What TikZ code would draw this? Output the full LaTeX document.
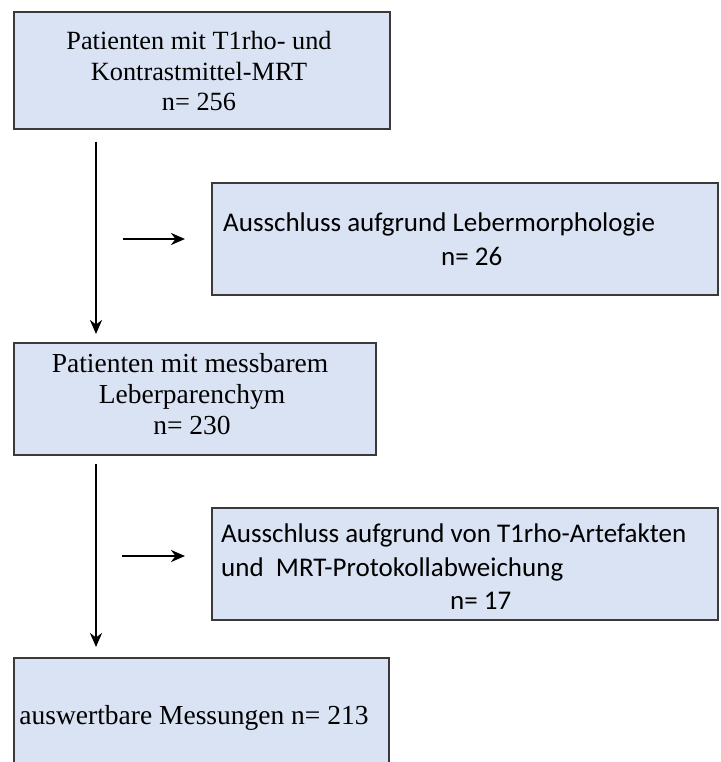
\documentclass[tikz,border=0pt]{standalone}
\usepackage{fontspec}
\setmainfont{Liberation Serif}
\newfontfamily\calib{Carlito}
\usetikzlibrary{arrows.meta}
\definecolor{boxfill}{HTML}{DAE3F3}
\definecolor{boxline}{HTML}{3A3A3A}
\tikzset{
  box/.style={draw=boxline, line width=1.3pt, fill=boxfill, rectangle, inner sep=0pt},
  serifline/.style={anchor=base, inner sep=0pt, font=\fontsize{26.3}{30}\selectfont},
  serifbig/.style={anchor=base, inner sep=0pt, font=\fontsize{27.5}{31}\selectfont},
  sansline/.style={anchor=base west, inner sep=0pt, font=\calib\fontsize{27}{32}\selectfont},
  flow/.style={line width=2.4pt, -{Stealth[length=14pt,width=12pt,inset=4.5pt]}},
}
\begin{document}
\begin{tikzpicture}[x=1pt,y=-1pt]
\useasboundingbox (0,0) rectangle (720,762);
\clip (0,0) rectangle (720,762);
% boxes
\node[box, minimum width=376pt, minimum height=117pt] (b1) at (202,70.5) {};
\node[box, minimum width=506pt, minimum height=112pt] (b2) at (465,239) {};
\node[box, minimum width=362pt, minimum height=112pt] (b3) at (195,399) {};
\node[box, minimum width=506pt, minimum height=112pt] (b4) at (465,564) {};
\node[box, minimum width=375pt, minimum height=160pt] (b5) at (201.5,738) {};
% texts
\node[serifline] (t1a) at (199,50) {Patienten mit T1rho- und};
\node[serifline] (t1b) at (199,81) {Kontrastmittel-MRT};
\node[serifline] (t1c) at (199,111) {n= 256};
\node[sansline] (t2a) at (223,231) {Ausschluss aufgrund Lebermorphologie};
\node[sansline] (t2b) at (441,265) {n= 26};
\node[serifbig] (t3a) at (190,372) {Patienten mit messbarem};
\node[serifbig] (t3b) at (192,403) {Leberparenchym};
\node[serifbig] (t3c) at (192,434) {n= 230};
\node[sansline] (t4a) at (221,542) {Ausschluss aufgrund von T1rho-Artefakten};
\node[sansline] (t4b) at (221,576) {und\ \ MRT-Protokollabweichung};
\node[sansline] (t4c) at (450,609) {n= 17};
\node[serifbig] (t5a) at (194,724) {auswertbare Messungen n= 213};
% connectors
\coordinate (a1s) at (96,142);
\coordinate (a1e) at (96,334);
\coordinate (s1s) at (123,239);
\coordinate (s1e) at (185,239);
\coordinate (a2s) at (96,464);
\coordinate (a2e) at (96,647);
\coordinate (s2s) at (122,556);
\coordinate (s2e) at (185,556);
\draw[flow] (a1s) -- (a1e);
\draw[flow] (s1s) -- (s1e);
\draw[flow] (a2s) -- (a2e);
\draw[flow] (s2s) -- (s2e);
\end{tikzpicture}
\end{document}
